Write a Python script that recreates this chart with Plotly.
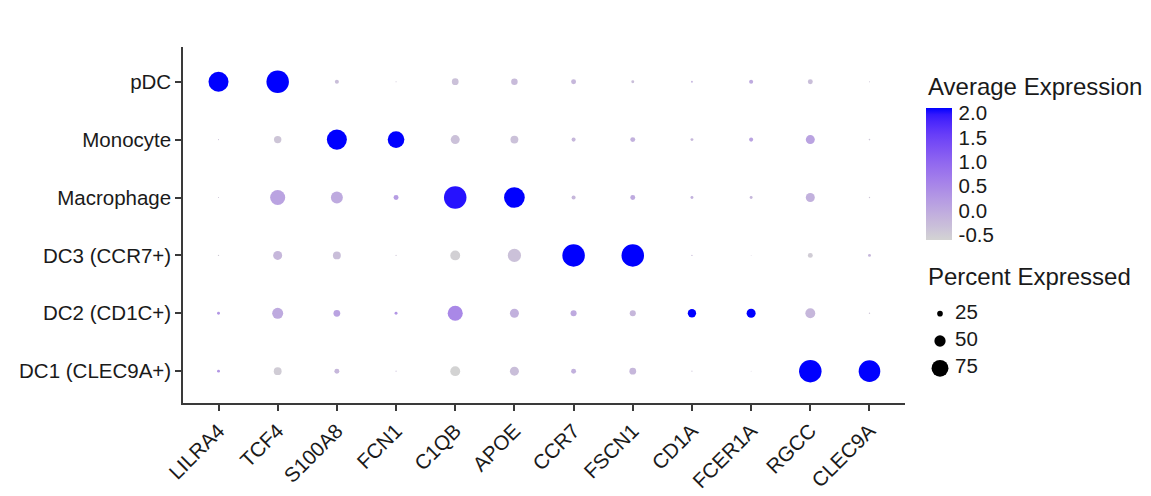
import plotly.graph_objects as go

genes = ["LILRA4", "TCF4", "S100A8", "FCN1", "C1QB", "APOE",
         "CCR7", "FSCN1", "CD1A", "FCER1A", "RGCC", "CLEC9A"]
cell_types = ["pDC", "Monocyte", "Macrophage", "DC3 (CCR7+)", "DC2 (CD1C+)", "DC1 (CLEC9A+)"]

# Percent expressed (rows = cell types, cols = genes)
pct_pDC        = [89, 100, 18, 5, 30, 29, 22, 13, 8, 18, 22, 5]
pct_Monocyte   = [5, 33, 89, 74, 40, 35, 18, 22, 13, 18, 40, 7]
pct_Macrophage = [5, 67, 53, 22, 100, 92, 18, 22, 13, 13, 40, 6]
pct_DC3        = [6, 40, 35, 5, 44, 59, 100, 100, 6, 4, 22, 13]
pct_DC2        = [13, 49, 30, 13, 67, 40, 27, 27, 37, 40, 44, 6]
pct_DC1        = [13, 35, 22, 5, 44, 40, 22, 30, 5, 4, 100, 96]

# Average (scaled) expression
avg_pDC        = [2.1, 2.1, -0.3, -0.4, -0.35, -0.25, -0.2, -0.3, -0.1, 0.0, -0.3, -0.4]
avg_Monocyte   = [-0.3, -0.4, 2.1, 2.1, -0.35, -0.35, -0.2, -0.1, -0.2, 0.1, 0.1, -0.4]
avg_Macrophage = [-0.4, 0.1, 0.0, 0.2, 2.0, 2.1, -0.2, 0.0, -0.1, -0.2, -0.1, -0.4]
avg_DC3        = [-0.5, -0.2, -0.3, -0.4, -0.55, -0.35, 2.1, 2.1, -0.3, -0.4, -0.5, -0.2]
avg_DC2        = [0.3, 0.0, 0.1, 0.3, 0.5, -0.1, 0.0, -0.2, 2.1, 2.1, -0.2, -0.4]
avg_DC1        = [0.3, -0.5, -0.2, -0.3, -0.6, -0.3, -0.1, -0.2, -0.4, -0.4, 2.1, 2.1]

pct_rows = [pct_pDC, pct_Monocyte, pct_Macrophage, pct_DC3, pct_DC2, pct_DC1]
avg_rows = [avg_pDC, avg_Monocyte, avg_Macrophage, avg_DC3, avg_DC2, avg_DC1]

color_ticks = [-0.5, 0.0, 0.5, 1.0, 1.5, 2.0]
size_legend_values = [25, 50, 75]

# ---- Lab-space gradient (lightgrey -> blue), like ggplot's scale_color_gradient
def _lin(c):
    c = c / 255.0
    return c / 12.92 if c <= 0.04045 else ((c + 0.055) / 1.055) ** 2.4

def _delin(c):
    c = 12.92 * c if c <= 0.0031308 else 1.055 * (c ** (1 / 2.4)) - 0.055
    return max(0, min(255, round(c * 255)))

WX, WY, WZ = 0.95047, 1.0, 1.08883

def rgb2lab(rgb):
    r, g, b = [_lin(v) for v in rgb]
    X = 0.4124564 * r + 0.3575761 * g + 0.1804375 * b
    Y = 0.2126729 * r + 0.7151522 * g + 0.0721750 * b
    Z = 0.0193339 * r + 0.1191920 * g + 0.9503041 * b
    def f(t):
        return t ** (1 / 3) if t > 216 / 24389 else (24389 / 27 * t + 16) / 116
    fx, fy, fz = f(X / WX), f(Y / WY), f(Z / WZ)
    return (116 * fy - 16, 500 * (fx - fy), 200 * (fy - fz))

def lab2rgb(lab):
    L, a, b = lab
    fy = (L + 16) / 116
    fx = fy + a / 500
    fz = fy - b / 200
    def finv(t):
        return t ** 3 if t ** 3 > 216 / 24389 else (116 * t - 16) / (24389 / 27)
    X, Y, Z = WX * finv(fx), WY * finv(fy), WZ * finv(fz)
    r = 3.2404542 * X - 1.5371385 * Y - 0.4985314 * Z
    g = -0.9692660 * X + 1.8760108 * Y + 0.0415560 * Z
    bb = 0.0556434 * X - 0.2040259 * Y + 1.0572252 * Z
    return tuple(_delin(max(0.0, v)) for v in (r, g, bb))

lo, hi = rgb2lab((211, 211, 211)), rgb2lab((0, 0, 255))
n = 20
colorscale = []
for i in range(n + 1):
    t = i / n
    lab = tuple(lo[k] + (hi[k] - lo[k]) * t for k in range(3))
    r, g, b = lab2rgb(lab)
    colorscale.append([t, f"rgb({r},{g},{b})"])

# ---- flatten for plotting
xs, ys, sizes, cols = [], [], [], []
for ct, prow, arow in zip(cell_types, pct_rows, avg_rows):
    for g, p, a in zip(genes, prow, arow):
        xs.append(g)
        ys.append(ct)
        sizes.append(p)
        cols.append(a)

SIZEREF = 1 / 0.225  # diameter px = percent * 0.225
FONT = "Liberation Sans, Arial, sans-serif"
TXT = "#1a1a1a"
AX = "#3a3a3a"
TICK_FS = 20.5
TITLE_FS = 24

OFF = 8  # page body margin
W, H = 1151 - OFF, 496 - OFF
L_M, T_M = 183 - OFF, 47 - OFF
R_M = 5
B_M = H - (403 - OFF)
PW, PH = W - L_M - R_M, H - T_M - B_M

def px_x(px):
    return (px - OFF - L_M) / PW

def px_y(py):
    return 1 - (py - OFF - T_M) / PH

fig = go.Figure()
fig.add_trace(go.Scatter(
    x=xs, y=ys, mode="markers",
    marker=dict(
        size=sizes, sizemode="diameter", sizeref=SIZEREF, sizemin=0,
        color=cols, colorscale=colorscale, cmin=-0.6, cmax=2.1,
        opacity=1, line=dict(width=0),
        colorbar=dict(
            x=px_x(926), xanchor="left", xpad=0, ypad=0,
            y=px_y(174), yanchor="middle",
            thickness=26, thicknessmode="pixels",
            len=132, lenmode="pixels",
            outlinewidth=0,
            tickvals=color_ticks, ticktext=[f"{v:.1f}" for v in color_ticks],
            ticks="outside", ticklen=3, tickcolor="rgba(0,0,0,0)", tickwidth=1,
            tickfont=dict(family=FONT, size=TICK_FS, color=TXT),
        ),
    ),
    showlegend=False, hoverinfo="skip",
))

# size legend
fig.add_trace(go.Scatter(
    x=[22] * len(size_legend_values), y=[str(v) for v in size_legend_values],
    mode="markers",
    marker=dict(size=size_legend_values, sizemode="diameter", sizeref=SIZEREF,
                color="black", opacity=1, line=dict(width=0)),
    xaxis="x2", yaxis="y2", showlegend=False, hoverinfo="skip",
))
fig.add_trace(go.Scatter(
    x=[37] * len(size_legend_values), y=[str(v) for v in size_legend_values],
    mode="text", text=[str(v) for v in size_legend_values],
    textposition="middle right",
    textfont=dict(family=FONT, size=TICK_FS, color=TXT),
    xaxis="x2", yaxis="y2", showlegend=False, hoverinfo="skip",
))

fig.update_layout(
    width=W, height=H,
    margin=dict(l=L_M, r=R_M, t=T_M, b=B_M),
    paper_bgcolor="white", plot_bgcolor="white",
    font=dict(family=FONT, size=TICK_FS, color=TXT),
    xaxis=dict(
        domain=[0, px_x(905)],
        type="category", categoryorder="array", categoryarray=genes,
        range=[-0.6, 11.6],
        showgrid=False, zeroline=False,
        showline=True, linecolor=AX, linewidth=1.5,
        ticks="outside", ticklen=6, tickcolor=AX, tickwidth=1.5,
        tickangle=-45, tickfont=dict(family=FONT, size=TICK_FS, color=TXT),
    ),
    yaxis=dict(
        domain=[0, 1],
        type="category", categoryorder="array", categoryarray=cell_types,
        range=[5.55, -0.6],
        showgrid=False, zeroline=False,
        showline=True, linecolor=AX, linewidth=1.5,
        ticks="outside", ticklen=6, tickcolor=AX, tickwidth=1.5,
        tickfont=dict(family=FONT, size=TICK_FS, color=TXT),
    ),
    xaxis2=dict(domain=[px_x(918), px_x(1018)], range=[0, 100], visible=False,
                anchor="y2"),
    yaxis2=dict(domain=[px_y(382), px_y(300)], type="category",
                categoryorder="array",
                categoryarray=[str(v) for v in size_legend_values],
                range=[2.5, -0.5], visible=False, anchor="x2"),
    annotations=[
        dict(text="Average Expression", xref="paper", yref="paper",
             x=px_x(926), y=px_y(86), xanchor="left", yanchor="middle",
             showarrow=False, font=dict(family=FONT, size=TITLE_FS, color=TXT)),
        dict(text="Percent Expressed", xref="paper", yref="paper",
             x=px_x(926), y=px_y(276), xanchor="left", yanchor="middle",
             showarrow=False, font=dict(family=FONT, size=TITLE_FS, color=TXT)),
    ],
)

fig.write_html("out.html")
